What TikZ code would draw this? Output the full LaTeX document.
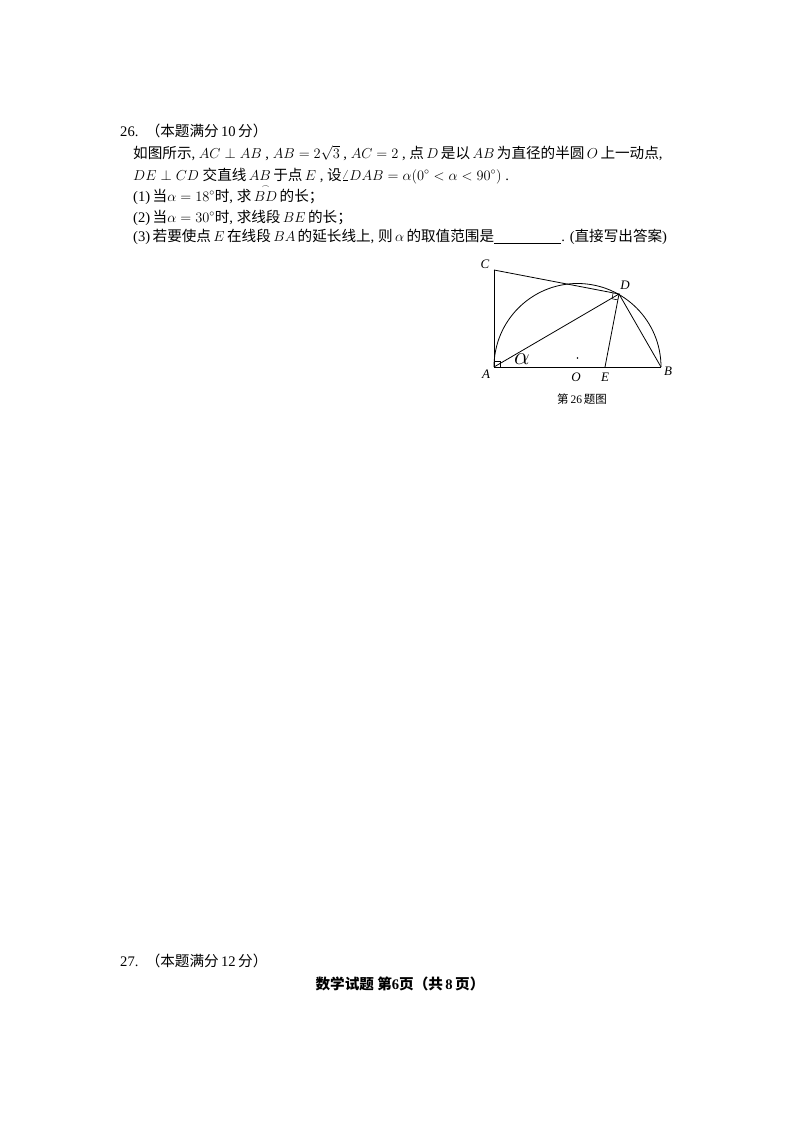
\documentclass[tikz,border=0pt]{standalone}
\usepackage{amsmath}
\usepackage{fontspec}
\usetikzlibrary{calc}
\setmainfont{Liberation Serif}
\newfontfamily\cjk{Noto Sans CJK SC}
\newcommand\zh[1]{{\cjk #1}}
\begin{document}
\begin{tikzpicture}[x=1pt,y=-1pt,
  txt/.style={anchor=base west,inner sep=0pt,font=\fontsize{14.6}{17}\selectfont},
  lab/.style={inner sep=1pt,font=\fontsize{13}{15}\selectfont\itshape},
  ln/.style={line width=0.8pt}]
\useasboundingbox (0,0) rectangle (800,1132);
\node[txt] (t0) at (120,136) {26.\ \ \zh{（本题满分}\,10\,\zh{分）}};
\node[txt] (t1) at (133,158) {\zh{如图所示}, $AC\perp AB$ , $AB=2\sqrt3$ , $AC=2$ , \zh{点}$\,D\,$\zh{是以}$\,AB\,$\zh{为直径的半圆}$\,O\,$\zh{上一动点},};
\node[txt] (t2) at (133,180) {$DE\perp CD$ \zh{交直线}$\,AB\,$\zh{于点}$\,E$ , \zh{设}$\angle DAB=\alpha(0^\circ<\alpha<90^\circ)$ .};
\node[txt] (t3) at (133,201) {(1)\,\zh{当}$\alpha=18^\circ$\zh{时}, \zh{求}$\,\overset{\scriptscriptstyle\frown}{BD}\,$\zh{的长}\zh{；}};
\node[txt] (t4) at (133,222) {(2)\,\zh{当}$\alpha=30^\circ$\zh{时}, \zh{求线段}$\,BE\,$\zh{的长}\zh{；}};
\node[txt] (t5) at (133,241) {(3)\,\zh{若要使点}$\,E\,$\zh{在线段}$\,BA\,$\zh{的延长线上}, \zh{则}$\,\alpha\,$\zh{的取值范围是}\underline{\hspace{4.6em}}. (\zh{直接写出答案})};

\coordinate (A) at (494,367);
\coordinate (B) at (661,367);
\coordinate (C) at (494,270);
\coordinate (O) at (577.5,367);
\coordinate (D) at (619,294);
\coordinate (E) at (605,367);
\draw[ln] (B) arc[start angle=0,end angle=-180,radius=83.5];
\draw[ln] (C) -- (A) -- (B);
\draw[ln] (C) -- (D) -- (A);
\draw[ln] (D) -- (E);
\draw[ln] (D) -- (B);
\draw[line width=0.6pt] (494,361) -- (500,361) -- (500,367);
\draw[line width=0.6pt] ($(D)+(-5.9,-1.1)$) -- ($(D)+(-7,4.8)$) -- ($(D)+(-1.1,5.9)$);
\fill (O) ++(0,-9) circle (0.9);
\node[inner sep=0pt,font=\fontsize{28}{28}\selectfont] (al) at (522,359) {$\alpha$};
\node[lab] (lC) at (485,264) {C};
\node[lab] (lD) at (625,285) {D};
\node[lab] (lA) at (486,374) {A};
\node[lab] (lO) at (576,377) {O};
\node[lab] (lE) at (605,377) {E};
\node[lab] (lB) at (668,371) {B};
\node[inner sep=0pt,font=\cjk\fontsize{11.5}{13}\selectfont] (cap) at (582,399) {第\,{\rmfamily 26}\,题图};

\node[txt] (t6) at (120,966) {27.\ \ \zh{（本题满分}\,12\,\zh{分）}};
\node[txt,anchor=base] (ft) at (400,989) {\zh{\bfseries 数学试题\ 第}\textbf{6}\zh{\bfseries 页（共}\,\textbf{8}\,\zh{\bfseries 页）}};
\end{tikzpicture}
\end{document}
